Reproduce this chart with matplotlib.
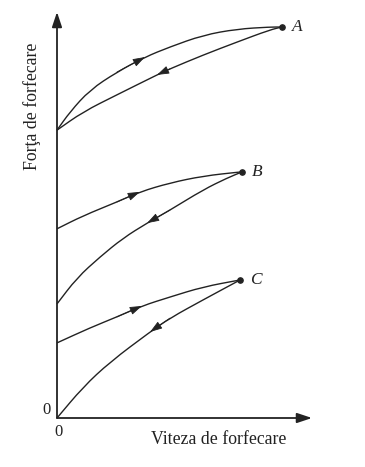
import matplotlib.pyplot as plt
from matplotlib.path import Path
from matplotlib.patches import PathPatch

# points (arbitrary units, axes run 0..10)
a_up_x = [0, 0.51, 1.29, 2.35, 3.45, 4.43, 5.73, 7.06, 8.35, 8.82]
a_up_y = [7.09, 7.54, 8.08, 8.52, 8.89, 9.14, 9.43, 9.58, 9.63, 9.63]
a_down_x = [8.82, 8.35, 7.06, 5.73, 4.43, 3.92, 2.35, 1.02, 0]
a_down_y = [9.63, 9.56, 9.26, 8.94, 8.60, 8.45, 7.96, 7.54, 7.09]

b_up_x = [0, 1.02, 2.35, 3.25, 4.43, 5.73, 7.18, 7.25]
b_up_y = [4.66, 4.98, 5.32, 5.57, 5.79, 5.96, 6.06, 6.06]
b_down_x = [7.25, 6.67, 5.73, 4.43, 3.53, 2.59, 1.69, 0.78, 0]
b_down_y = [6.06, 5.91, 5.62, 5.12, 4.80, 4.43, 3.97, 3.45, 2.81]

c_up_x = [0, 1.29, 2.35, 3.33, 4.43, 5.73, 7.18]
c_up_y = [1.85, 2.22, 2.49, 2.76, 2.98, 3.23, 3.40]
c_down_x = [7.18, 5.73, 4.43, 3.65, 2.08, 1.02, 0]
c_down_y = [3.40, 2.91, 2.46, 2.12, 1.38, 0.76, 0]

labels = ["A", "B", "C"]
arrow_idx = [(4, 5), (3, 4), (3, 3)]  # (up, down) arrow tip positions

ink = "#222222"
plt.rcParams['font.family'] = ['Liberation Serif', 'DejaVu Serif']


def smooth_path(xs, ys):
    # quadratic bezier through midpoints, read points used as control points
    pts = list(zip(xs, ys))
    verts = [pts[0]]
    codes = [Path.MOVETO]
    mid = lambda p, q: ((p[0] + q[0]) / 2, (p[1] + q[1]) / 2)
    verts.append(mid(pts[0], pts[1]))
    codes.append(Path.LINETO)
    for i in range(1, len(pts) - 1):
        verts += [pts[i], mid(pts[i], pts[i + 1])]
        codes += [Path.CURVE3, Path.CURVE3]
    verts.append(pts[-1])
    codes.append(Path.LINETO)
    return Path(verts, codes)


fig = plt.figure(figsize=(3.65, 4.67), dpi=100)
ax = fig.add_axes([57 / 365, 49 / 467, 255 / 365, 406 / 467])
ax.set_xlim(0, 10)
ax.set_ylim(0, 10)
ax.axis('off')

# axes with arrowheads
arr = dict(arrowstyle='-|>,head_length=0.9,head_width=0.3', color=ink, lw=1.3,
           shrinkA=0, shrinkB=0)
ax.annotate('', xy=(10, 0), xytext=(0, 0), arrowprops=arr, annotation_clip=False)
ax.annotate('', xy=(0, 10), xytext=(0, 0), arrowprops=arr, annotation_clip=False)

curves = [(a_up_x, a_up_y, a_down_x, a_down_y),
          (b_up_x, b_up_y, b_down_x, b_down_y),
          (c_up_x, c_up_y, c_down_x, c_down_y)]

head = dict(arrowstyle='-|>,head_length=0.75,head_width=0.25', color=ink, lw=0.6,
            shrinkA=0, shrinkB=0)
for (ux, uy, dx, dy), lab, (iu, idn) in zip(curves, labels, arrow_idx):
    for xs, ys in ((ux, uy), (dx, dy)):
        ax.add_patch(PathPatch(smooth_path(xs, ys), fill=False, edgecolor=ink,
                               lw=1.0, clip_on=False))
    ax.plot(ux[-1], uy[-1], 'o', color=ink, ms=3.8, clip_on=False)
    ax.annotate('', xy=(ux[iu], uy[iu]), xytext=(ux[iu - 1], uy[iu - 1]), arrowprops=head)
    ax.annotate('', xy=(dx[idn], dy[idn]), xytext=(dx[idn - 1], dy[idn - 1]), arrowprops=head)
    ax.text(ux[-1] + 0.4, uy[-1], lab, style='italic', fontsize=12.5, color=ink,
            ha='left', va='center')

ax.text(-0.4, 0.2, "0", fontsize=12, color=ink, ha='center', va='center')
ax.text(0.05, -0.35, "0", fontsize=12, color=ink, ha='center', va='center')

fig.text(219 / 365, 1 - 440 / 467, "Viteza de forfecare", fontsize=12.8, color=ink,
         ha='center', va='center')
fig.text(32 / 365, 1 - 106 / 467, "Forţa de forfecare", fontsize=12.8, color=ink,
         ha='center', va='center', rotation=90)

fig.savefig("out.png", dpi=100)
